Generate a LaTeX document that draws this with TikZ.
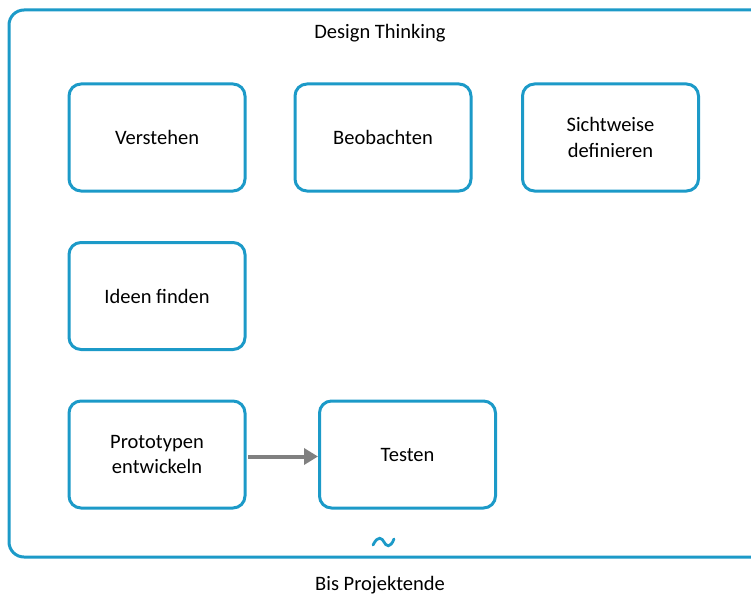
\documentclass[tikz,border=0pt]{standalone}
\usepackage{fontspec}
\setmainfont{Carlito}
\usetikzlibrary{arrows.meta}
\definecolor{teal1}{RGB}{28,154,200}
\definecolor{arrgray}{RGB}{128,128,128}
\tikzset{
  stepbox/.style={draw=teal1, line width=3pt, rounded corners=12pt, minimum width=176pt, minimum height=107pt, align=center, font=\fontsize{20.5}{25.5}\selectfont, inner sep=0pt},
  lbl/.style={font=\fontsize{20.5}{25}\selectfont, inner sep=0pt}
}
\begin{document}
\begin{tikzpicture}[x=1pt,y=-1pt]
\useasboundingbox (0,0) rectangle (751,599);
\clip (0,0) rectangle (751,599);
\draw[teal1, line width=3pt, rounded corners=15pt] (9,10) rectangle (770,557);
\node[lbl] (title) at (380,33) {Design Thinking};
\node[stepbox] (verstehen) at (157,137.5) {Verstehen};
\node[stepbox] (beobachten) at (383,137.5) {Beobachten};
\node[stepbox] (sicht) at (610.5,137.5) {Sichtweise\\definieren};
\node[stepbox] (ideen) at (157,296) {Ideen finden};
\node[stepbox] (proto) at (157,454.5) {Prototypen\\entwickeln};
\node[stepbox] (testen) at (407.5,454.5) {Testen};
\draw[arrgray, line width=4pt, -{Triangle[length=14pt,width=16pt]}] (proto.east) ++(1.5,2) coordinate (a1) -- (a1 -| testen.west);
\coordinate (tl) at (373,545);
\draw[teal1, line width=2.8pt, line cap=round] (tl) .. controls (378,535) and (382,538) .. (384,542) .. controls (386,546) and (390,549) .. (394,539);
\node[lbl] (bis) at (380,585) {Bis Projektende};
\end{tikzpicture}
\end{document}
